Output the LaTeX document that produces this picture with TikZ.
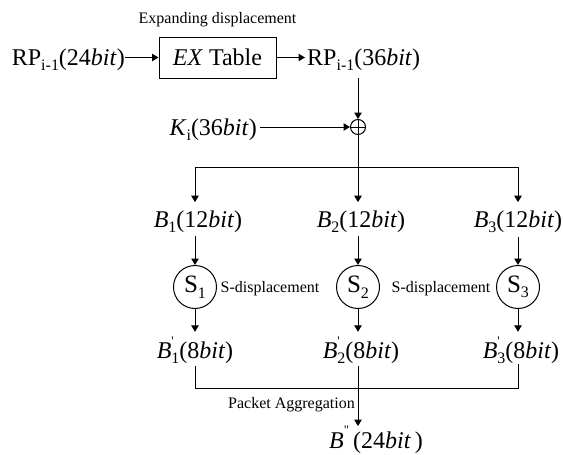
\documentclass[tikz,border=0pt]{standalone}
\usepackage{fontspec}
\setmainfont{Liberation Serif}
\newfontfamily\qfont{Liberation Serif}
\usetikzlibrary{arrows.meta}
\newcommand{\sbx}[1]{\raisebox{-0.22em}{\fontsize{16}{16}\selectfont #1}}
\newcommand{\Bpr}[2]{\textit{B}\makebox[0pt][l]{\raisebox{0.52em}{\fontsize{13}{13}\selectfont\qfont #2}}\raisebox{-0.22em}{\fontsize{16}{16}\selectfont #1}}
\tikzset{
  lbl/.style={font=\fontsize{24}{28}\selectfont, inner sep=0pt},
  smalllbl/.style={font=\fontsize{16}{19}\selectfont, inner sep=0pt},
  boxst/.style={draw, line width=1pt, minimum width=117pt, minimum height=41pt, inner sep=0pt, font=\fontsize{24}{28}\selectfont},
  sbox/.style={circle, draw, line width=1pt, minimum size=43pt, inner sep=0pt, font=\fontsize{25}{28}\selectfont},
  arr/.style={-{Triangle[length=6.5pt,width=7.5pt]}, line width=1pt},
  ln/.style={line width=1pt}
}
\begin{document}
\begin{tikzpicture}[x=1pt,y=-1pt]
\useasboundingbox (0,0) rectangle (563,455);
% row 1
\node[smalllbl] (ed) at (217.5,20) {Expanding displacement};
\node[lbl, anchor=base east] (rp24) at (125,65) {RP\sbx{i-1}(24\textit{bit})};
\node[boxst] (ex) at (217.5,57.5) {\textit{EX} Table};
\node[lbl, anchor=base west] (rp36) at (307,65) {RP\sbx{i-1}(36\textit{bit})};
\draw[arr] (rp24.east |- ex.west) -- (ex.west);
\draw[arr, shorten >=2pt] (ex.east) -- (ex.east -| rp36.west);
% xor
\node[circle, draw, line width=1pt, minimum size=15pt, inner sep=0pt] (xor) at (358,127) {};
\draw[line width=1pt] (xor.north) -- (xor.south) (xor.west) -- (xor.east);
\draw[arr, shorten <=8pt] (xor |- rp36.south) -- (xor.north);
\node[lbl, anchor=base east] (ki) at (257,135) {\textit{K}\sbx{i}(36\textit{bit})};
\draw[arr, shorten <=3pt] (ki.east |- xor.west) -- (xor.west);
% split
\coordinate (sp) at (358,167);
\coordinate (c1) at (195,167);
\coordinate (c3) at (518,167);
\draw[ln] (xor.south) -- (sp);
\draw[ln] (c1) -- (c3);
% B row
\node[lbl, anchor=base] (b1) at (198,227) {\textit{B}\sbx{1}(12\textit{bit})};
\node[lbl, anchor=base] (b2) at (361,227) {\textit{B}\sbx{2}(12\textit{bit})};
\node[lbl, anchor=base] (b3) at (518,227) {\textit{B}\sbx{3}(12\textit{bit})};
\draw[arr, shorten >=8pt] (c1) -- (c1 |- b1.north);
\draw[arr, shorten >=8pt] (sp) -- (sp |- b2.north);
\draw[arr, shorten >=8pt] (c3) -- (c3 |- b3.north);
% S boxes
\node[sbox] (s1) at (195,287) {S\sbx{1}};
\node[sbox] (s2) at (358,287) {S\sbx{2}};
\node[sbox] (s3) at (518,287) {S\sbx{3}};
\node[smalllbl] (sd1) at (270,289) {S-displacement};
\node[smalllbl] (sd2) at (441,289) {S-displacement};
\draw[arr, shorten <=4pt] (s1 |- b1.south) -- (s1.north);
\draw[arr, shorten <=4pt] (s2 |- b2.south) -- (s2.north);
\draw[arr, shorten <=4pt] (s3 |- b3.south) -- (s3.north);
% B' row
\node[lbl, anchor=base] (bp1) at (195,358) {\Bpr{1}{'}(8\textit{bit})};
\node[lbl, anchor=base] (bp2) at (361,358) {\Bpr{2}{'}(8\textit{bit})};
\node[lbl, anchor=base] (bp3) at (521,358) {\Bpr{3}{'}(8\textit{bit})};
\draw[arr, shorten >=5pt] (s1.south) -- (s1.south |- bp1.north);
\draw[arr, shorten >=5pt] (s2.south) -- (s2.south |- bp2.north);
\draw[arr, shorten >=5pt] (s3.south) -- (s3.south |- bp3.north);
% aggregation
\coordinate (j1) at (195,388);
\coordinate (j3) at (518,388);
\draw[ln, shorten <=3pt] (s1 |- bp1.south) -- (j1) -- (j3) -- (s3 |- bp3.south);
\node[lbl, anchor=base west] (bpp) at (329,448) {\textit{B}\raisebox{0.55em}{\fontsize{13}{13}\selectfont\qfont "}\,(24\textit{bit}\,)};
\draw[arr, shorten <=3pt] (s2 |- bp2.south) -- (s2 |- bpp.north);
\node[smalllbl, anchor=east] (pa) at (355,405) {Packet Aggregation};
\end{tikzpicture}
\end{document}
